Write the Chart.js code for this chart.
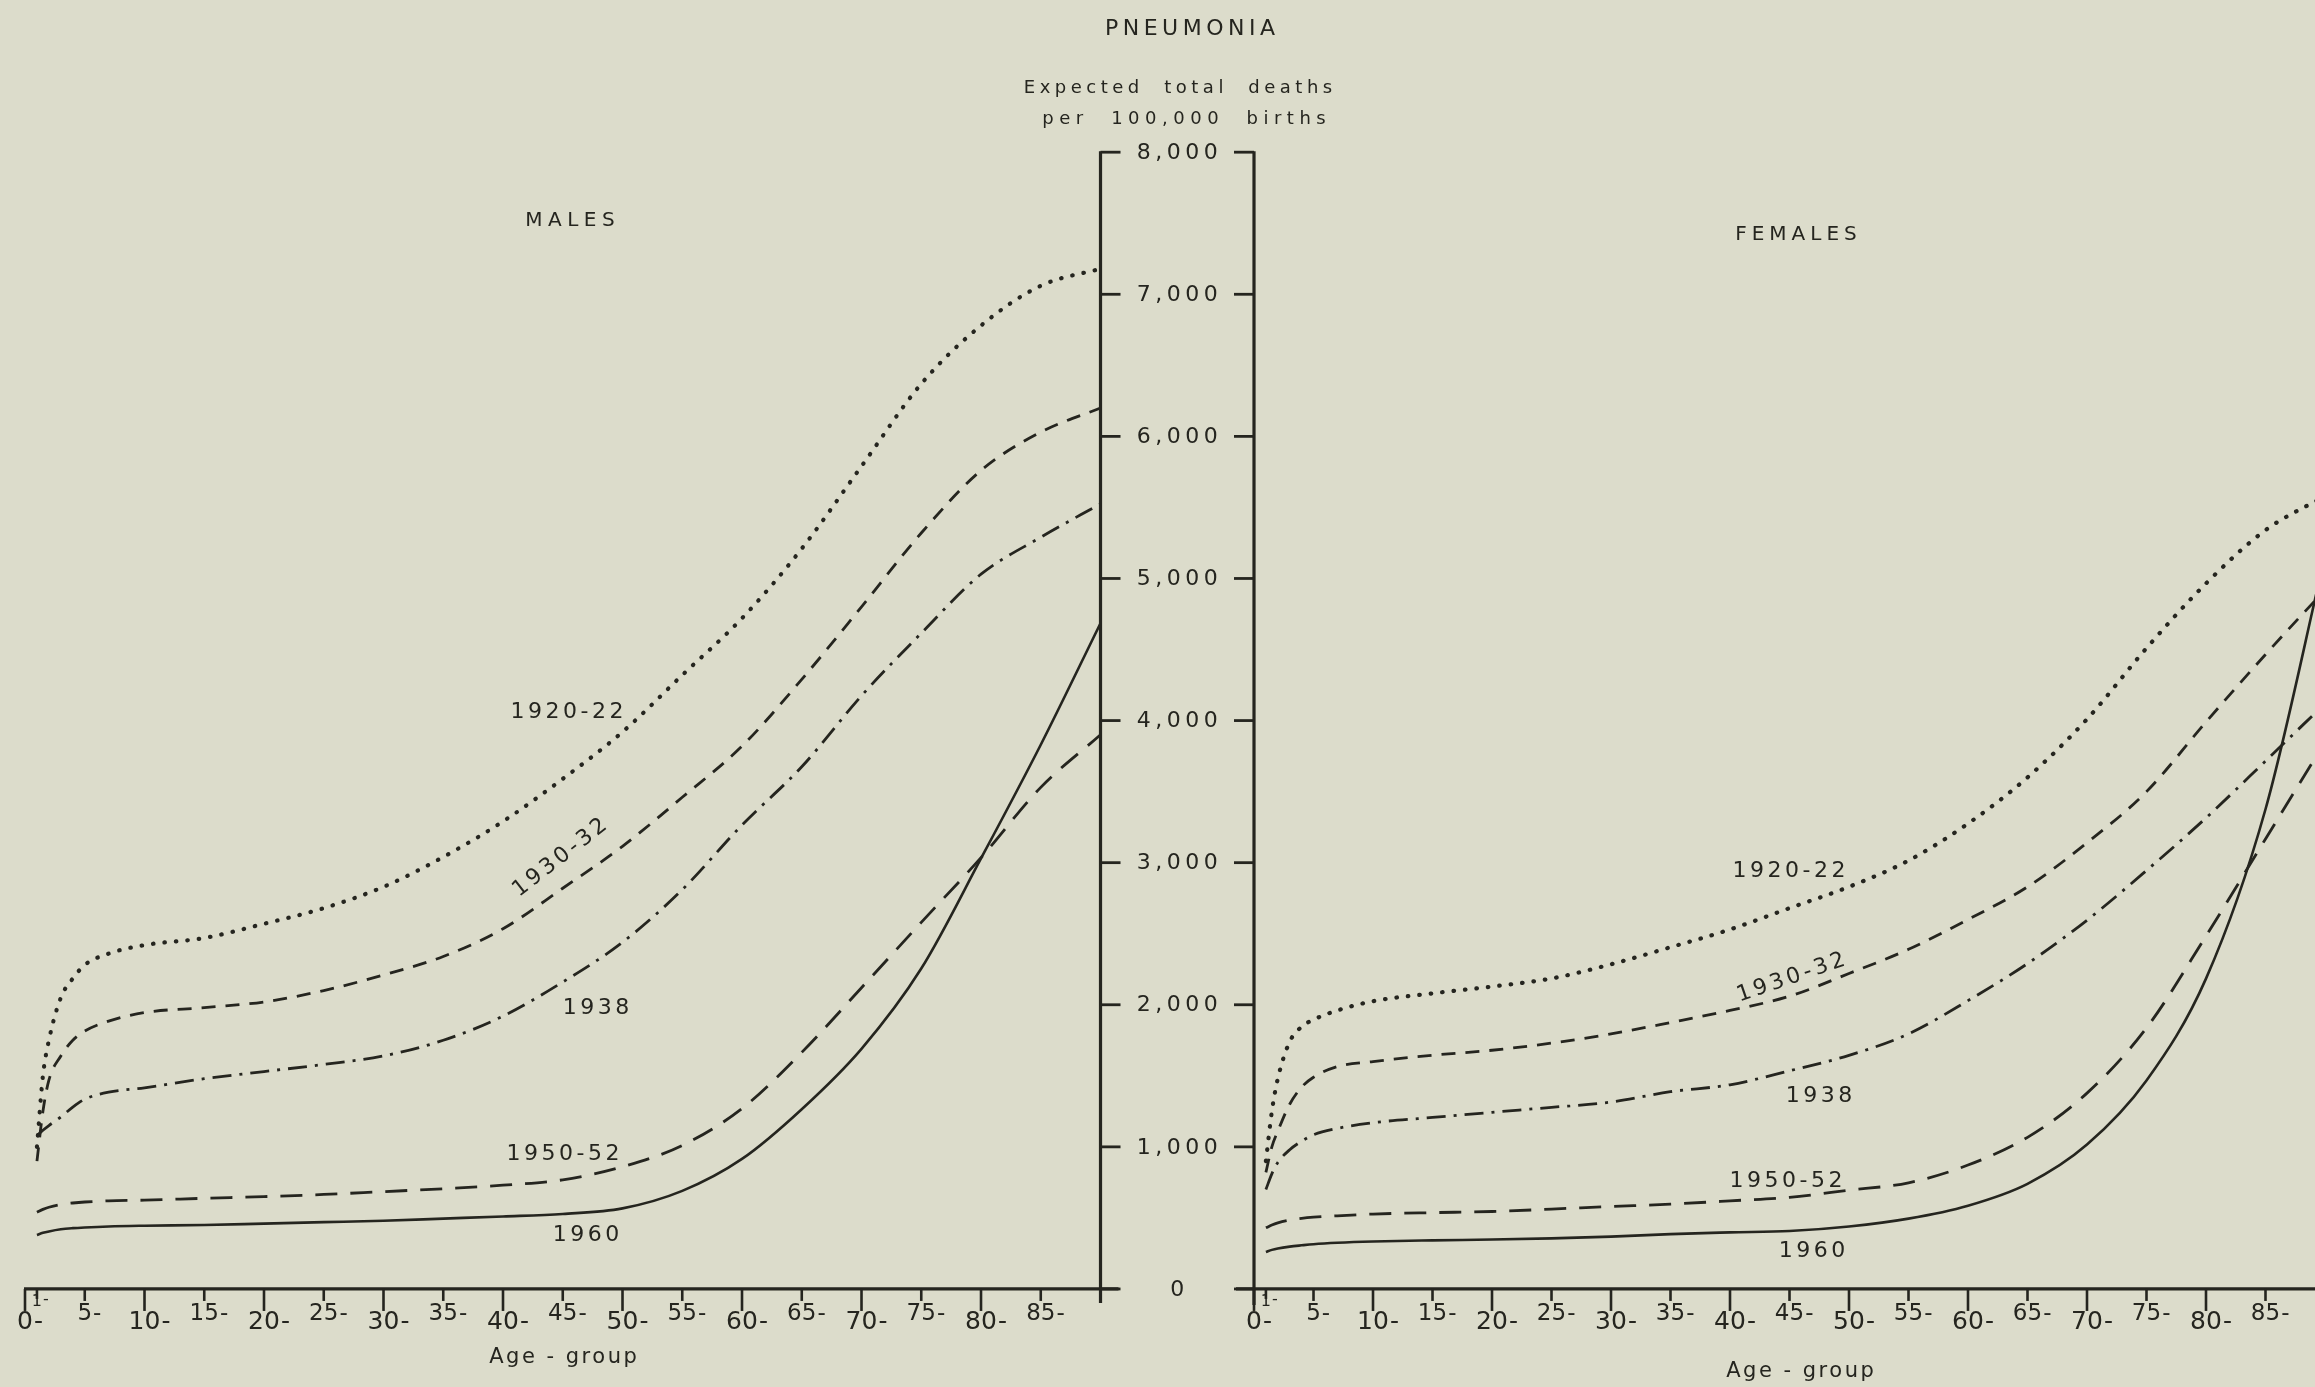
<!DOCTYPE html>
<html>
<head>
<meta charset="utf-8">
<title>Pneumonia - expected total deaths per 100,000 births</title>
<script src="https://cdn.jsdelivr.net/npm/chart.js@4.4.1/dist/chart.umd.min.js"></script>
<style>
  html, body { margin: 0; padding: 0; background: #dcdccb; }
  #wrap { width: 2315px; height: 1387px; }
  canvas { display: block; }
</style>
</head>
<body>
<div id="wrap"><canvas id="pneumonia" width="2315" height="1387"></canvas></div>
<script>
// ages (years) at which the cumulative curves are read
const ages = [1, 1.5, 2, 3, 4, 5, 7, 10, 15, 20, 25, 30, 35, 40, 45, 50, 55, 60, 65, 70, 75, 80, 85, 90];

// expected total deaths per 100,000 births, males
const males1920 = [1000, 1500, 1750, 2050, 2185, 2280, 2360, 2420, 2470, 2570, 2680, 2830, 3040, 3290, 3590, 3920, 4320, 4720, 5210, 5790, 6370, 6780, 7060, 7180];
const males1930 = [900, 1250, 1470, 1640, 1750, 1815, 1885, 1945, 1980, 2020, 2100, 2210, 2340, 2535, 2820, 3115, 3460, 3820, 4290, 4800, 5320, 5760, 6030, 6200];
const males1938 = [1080, 1117, 1150, 1210, 1280, 1335, 1385, 1415, 1480, 1530, 1580, 1640, 1750, 1920, 2160, 2440, 2810, 3265, 3675, 4175, 4615, 5030, 5290, 5525];
const males1950 = [540, 560, 575, 595, 605, 612, 620, 625, 638, 650, 665, 685, 705, 730, 768, 860, 1010, 1270, 1665, 2120, 2580, 3035, 3530, 3900];
const males1960 = [380, 395, 405, 420, 428, 433, 440, 445, 450, 460, 470, 480, 495, 510, 528, 567, 690, 915, 1265, 1690, 2255, 3030, 3830, 4685];

// same, females
const females1920 = [900, 1250, 1480, 1740, 1845, 1895, 1960, 2025, 2080, 2128, 2185, 2285, 2405, 2530, 2680, 2830, 3015, 3275, 3600, 4010, 4510, 4965, 5340, 5580];
const females1930 = [820, 1000, 1110, 1300, 1420, 1490, 1565, 1600, 1645, 1680, 1730, 1795, 1875, 1960, 2060, 2220, 2390, 2600, 2830, 3140, 3500, 3990, 4465, 4920];
const females1938 = [700, 810, 890, 980, 1040, 1085, 1130, 1170, 1207, 1243, 1278, 1315, 1388, 1437, 1535, 1644, 1795, 2029, 2290, 2595, 2945, 3315, 3715, 4120];
const females1950 = [430, 450, 465, 485, 497, 505, 515, 527, 537, 545, 562, 580, 597, 620, 645, 695, 747, 872, 1067, 1378, 1837, 2484, 3167, 3850];
const females1960 = [260, 275, 285, 298, 307, 315, 325, 334, 342, 348, 356, 368, 386, 398, 408, 440, 495, 586, 740, 1016, 1467, 2184, 3376, 5160];

// axis ticks
const yTicks = [0, 1000, 2000, 3000, 4000, 5000, 6000, 7000, 8000];
const ageTicks = [0, 1, 5, 10, 15, 20, 25, 30, 35, 40, 45, 50, 55, 60, 65, 70, 75, 80, 85];
const periods = ['1920-22', '1930-32', '1938', '1950-52', '1960'];

const PAPER = '#dcdccb';
const INK = '#25251f';
const FONT = '"DejaVu Sans", Lato, sans-serif';

// line styles per period: dotted, dashed, dash-dot, long dash, solid
const styles = [
    { borderDash: [0.5, 11], borderWidth: 4.2, borderCapStyle: 'round' },
    { borderDash: [14, 10], borderWidth: 2.8 },
    { borderDash: [19, 8, 3, 8], borderWidth: 2.8 },
    { borderDash: [22, 13], borderWidth: 2.8 },
    { borderDash: [], borderWidth: 2.6 }
];

function toPoints(values) {
    return ages.map((a, i) => ({ x: a, y: values[i] }));
}

const maleSeries = [males1920, males1930, males1938, males1950, males1960];
const femaleSeries = [females1920, females1930, females1938, females1950, females1960];

const datasets = [];
maleSeries.forEach((s, i) => datasets.push(Object.assign({
    label: 'Males ' + periods[i], xAxisID: 'xm', yAxisID: 'y', data: toPoints(s)
}, styles[i])));
femaleSeries.forEach((s, i) => datasets.push(Object.assign({
    label: 'Females ' + periods[i], xAxisID: 'xf', yAxisID: 'y', data: toPoints(s)
}, styles[i])));

function text(ctx, str, x, y, size, spacing, angle) {
    ctx.save();
    ctx.translate(x, y);
    if (angle) ctx.rotate(angle * Math.PI / 180);
    ctx.font = size + 'px ' + FONT;
    ctx.letterSpacing = spacing + 'px';
    ctx.textAlign = 'center';
    ctx.textBaseline = 'middle';
    ctx.fillText(str, spacing / 2, 0);
    ctx.restore();
}

function seg(ctx, x1, y1, x2, y2) {
    ctx.beginPath();
    ctx.moveTo(x1, y1);
    ctx.lineTo(x2, y2);
    ctx.stroke();
}

const paper = {
    id: 'paper',
    beforeDraw(chart) {
        const ctx = chart.ctx;
        ctx.save();
        ctx.fillStyle = PAPER;
        ctx.fillRect(0, 0, chart.width, chart.height);
        ctx.restore();
    }
};

const frame = {
    id: 'frame',
    afterDatasetsDraw(chart) {
        const { ctx, scales } = chart;
        const xm = scales.xm, xf = scales.xf, y = scales.y;
        const y0 = y.getPixelForValue(0);
        const boxL = xm.getPixelForValue(90);
        const boxR = xf.getPixelForValue(0);
        const boxC = (boxL + boxR) / 2;
        const yTop = y.getPixelForValue(8000);

        ctx.save();
        ctx.strokeStyle = INK;
        ctx.fillStyle = INK;
        ctx.lineWidth = 3.2;

        // age axes
        seg(ctx, xm.getPixelForValue(0) - 1, y0, boxL + 18, y0);
        seg(ctx, boxR - 18, y0, chart.width, y0);

        // central scale: two uprights with inward ticks
        seg(ctx, boxL, yTop - 1, boxL, y0 + 14);
        seg(ctx, boxR, yTop - 1, boxR, y0 + 16);
        ctx.lineWidth = 2.8;
        yTicks.forEach(v => {
            const py = y.getPixelForValue(v);
            seg(ctx, boxL, py, boxL + 20, py);
            seg(ctx, boxR - 20, py, boxR, py);
            text(ctx, v === 0 ? '0' : v.toLocaleString('en-GB'), boxC, py + 1, 22, 4.5);
        });

        // age ticks and labels
        [xm, xf].forEach(scale => {
            ageTicks.forEach(a => {
                const px = scale.getPixelForValue(a);
                const long = a % 10 === 0;
                const len = a === 1 ? 10 : (long ? 22 : 12);
                ctx.lineWidth = 2.6;
                seg(ctx, px, y0, px, y0 + len);
                const size = a === 1 ? 16 : (long ? 25 : 23);
                const ly = a === 1 ? y0 + 13 : (long ? y0 + 34 : y0 + 25);
                ctx.font = size + 'px ' + FONT;
                ctx.letterSpacing = '0px';
                ctx.textBaseline = 'middle';
                const w = ctx.measureText(String(a)).width;
                ctx.textAlign = 'center';
                ctx.fillText(String(a), px, ly);
                ctx.textAlign = 'left';
                ctx.fillText('-', px + w / 2 + 1, ly - (a === 1 ? 2 : 0));
            });
        });

        // headings
        text(ctx, 'PNEUMONIA', 1190, 29, 22, 4.5);
        text(ctx, 'Expected  total  deaths', 1178, 88, 18, 4.5);
        text(ctx, 'per  100,000  births', 1184, 119, 18, 5.5);
        text(ctx, 'MALES', 570, 221, 20, 5.5);
        text(ctx, 'FEMALES', 1796, 235, 20, 5);
        text(ctx, 'Age - group', 563, 1358, 21, 2.5);
        text(ctx, 'Age - group', 1800, 1372, 21, 2.5);

        // curve labels (nudged for the scan's slight tilt)
        const maleLabels = [[567, 712, 0], [560, 858, -38], [596, 1008, 0], [563, 1154, 0], [586, 1235, 0]];
        const femaleLabels = [[1789, 871, 0], [1791, 978, -19], [1819, 1096, 0], [1786, 1181, 0], [1812, 1251, 0]];
        periods.forEach((p, i) => {
            text(ctx, p, maleLabels[i][0], maleLabels[i][1], 22, 3.5, maleLabels[i][2]);
            text(ctx, p, femaleLabels[i][0], femaleLabels[i][1], 22, 3.5, femaleLabels[i][2]);
        });
        ctx.restore();
    }
};

new Chart(document.getElementById('pneumonia'), {
    type: 'line',
    data: { datasets },
    options: {
        responsive: false,
        animation: false,
        events: [],
        layout: { padding: 0 },
        plugins: {
            legend: { display: false },
            tooltip: { enabled: false },
            title: { display: false }
        },
        elements: {
            point: { radius: 0 },
            line: { borderColor: INK, cubicInterpolationMode: 'monotone', fill: false }
        },
        scales: {
            xm: { type: 'linear', display: false, min: -2.092, max: 191.63 },
            xf: { type: 'linear', display: false, min: -105.38, max: 89.16 },
            y: { type: 'linear', display: false, min: -690, max: 9071 }
        }
    },
    plugins: [paper, frame]
});
</script>
</body>
</html>
